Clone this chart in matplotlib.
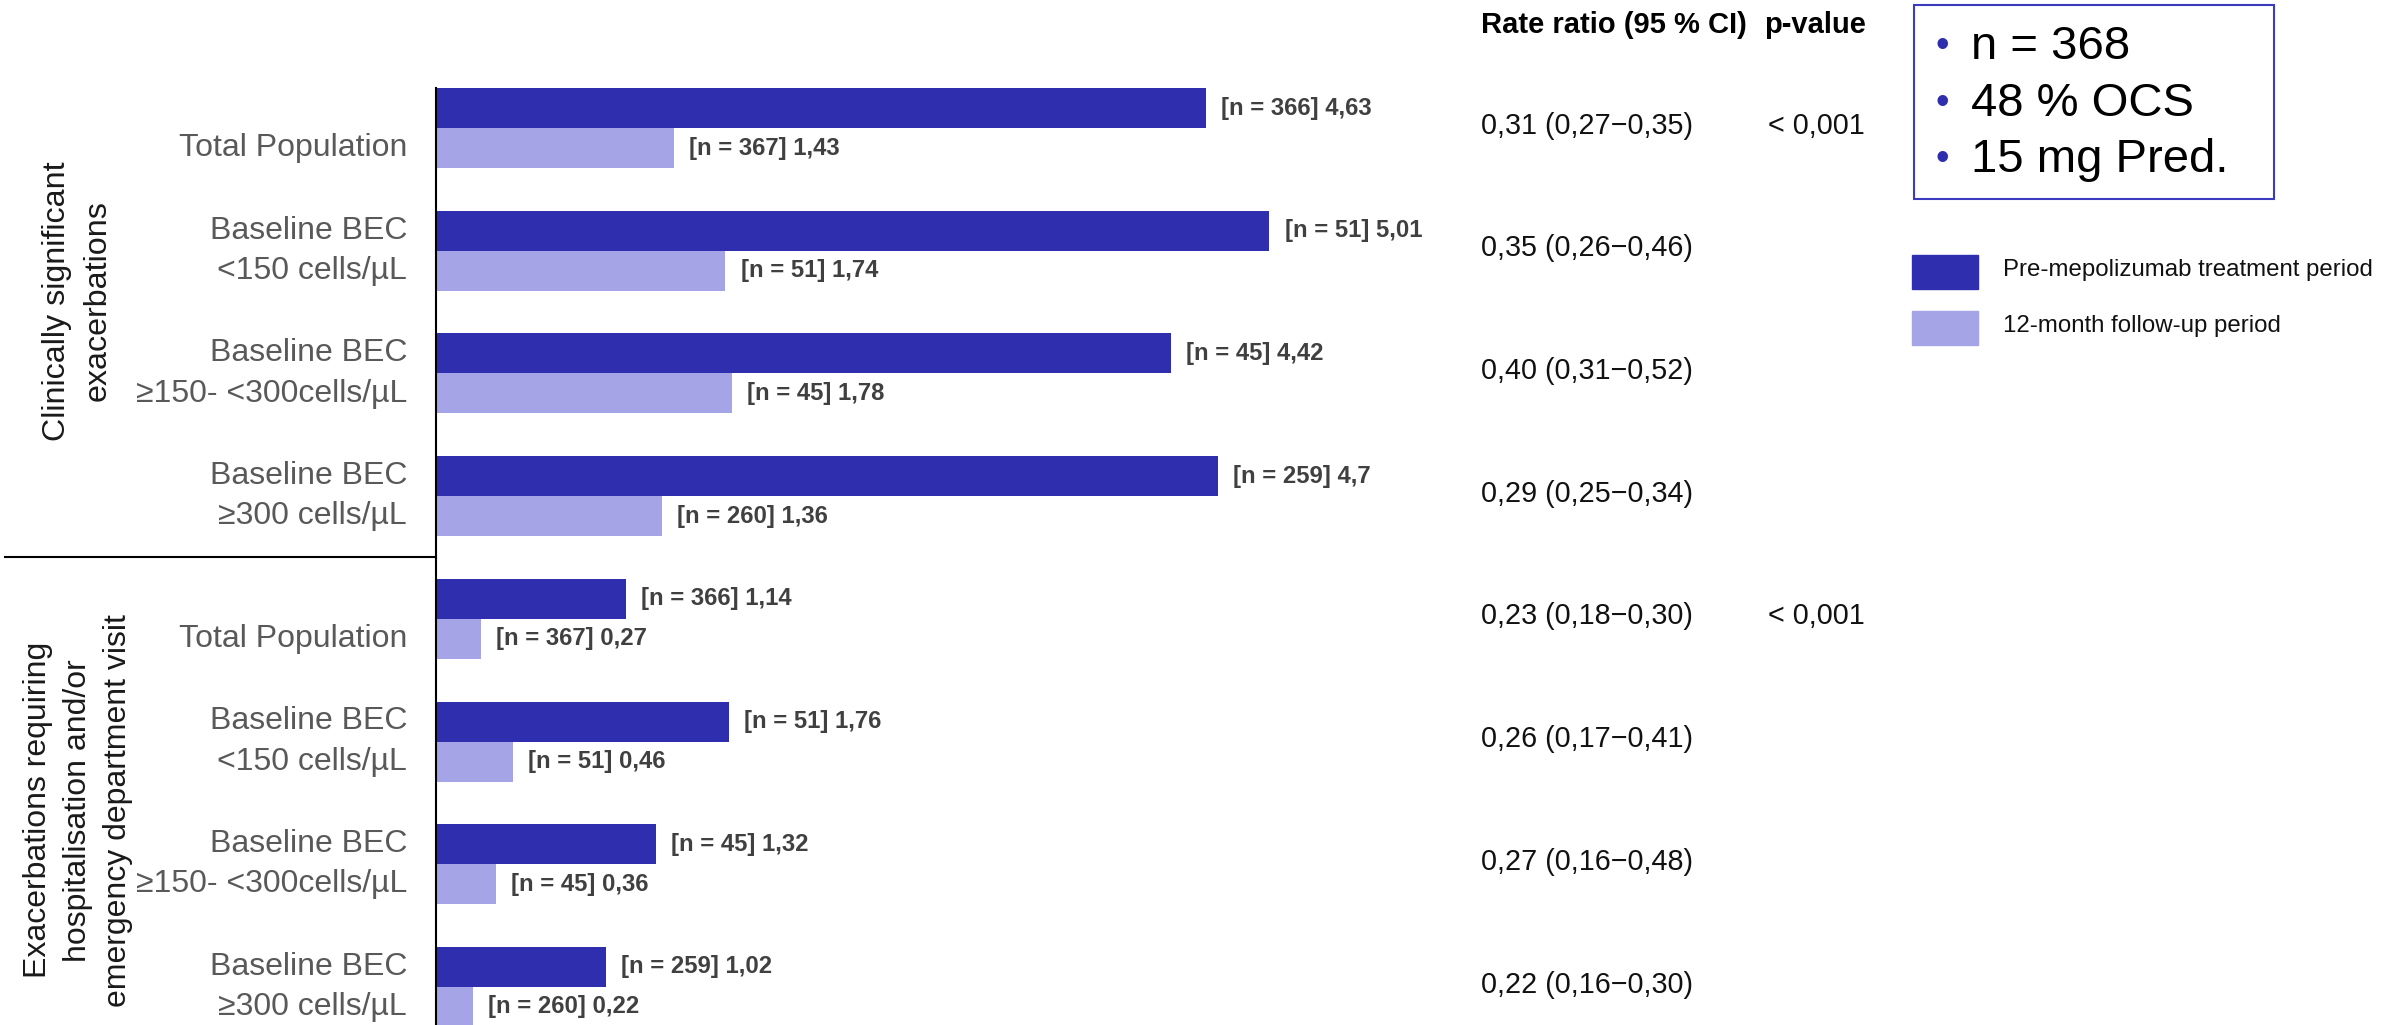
import matplotlib
matplotlib.use('Agg')
import matplotlib.pyplot as plt
import matplotlib.transforms as mtransforms
from matplotlib.patches import Rectangle
import numpy as np

plt.rcParams['font.family'] = ['Liberation Sans', 'DejaVu Sans']

# ---------------- data ----------------
row_labels = [
    "Total Population",
    "Baseline BEC\n<150 cells/µL",
    "Baseline BEC\n≥150- <300cells/µL",
    "Baseline BEC\n≥300 cells/µL",
    "Total Population",
    "Baseline BEC\n<150 cells/µL",
    "Baseline BEC\n≥150- <300cells/µL",
    "Baseline BEC\n≥300 cells/µL",
]
pre_vals = [4.63, 5.01, 4.42, 4.70, 1.14, 1.76, 1.32, 1.02]
post_vals = [1.43, 1.74, 1.78, 1.36, 0.27, 0.46, 0.36, 0.22]
pre_n = [366, 51, 45, 259, 366, 51, 45, 259]
post_n = [367, 51, 45, 260, 367, 51, 45, 260]
rate_ratios = ["0,31 (0,27−0,35)", "0,35 (0,26−0,46)", "0,40 (0,31−0,52)", "0,29 (0,25−0,34)",
               "0,23 (0,18−0,30)", "0,26 (0,17−0,41)", "0,27 (0,16−0,48)", "0,22 (0,16−0,30)"]
p_values = ["< 0,001", "", "", "", "< 0,001", "", "", ""]
section_labels = ["Clinically significant\nexacerbations",
                  "Exacerbations requiring\nhospitalisation and/or\nemergency department visit"]
info_lines = ["n = 368", "48 % OCS", "15 mg Pred."]
legend_labels = ["Pre-mepolizumab treatment period", "12-month follow-up period"]

DARK = "#2e2eaf"
LIGHT = "#a4a4e6"
W, H = 2386, 1025


def fx(px):
    return px / W


def fy(px):
    return 1 - px / H


fig = plt.figure(figsize=(W / 100, H / 100), dpi=100)
bh = 0.326
ax = fig.add_axes([fx(436), 0, fx(998), 937 / H])
ax.set_xlim(0, 6)
ax.set_ylim(7.31, -bh)

y = np.arange(len(pre_vals))
ax.barh(y - bh / 2, pre_vals, height=bh, color=DARK)
ax.barh(y + bh / 2, post_vals, height=bh, color=LIGHT)


def fmt(v):
    return f"{v:g}".replace('.', ',')


for i in range(len(y)):
    ax.annotate(f"[n = {pre_n[i]}] {fmt(pre_vals[i])}", (pre_vals[i], y[i] - bh / 2),
                xytext=(11, 0), textcoords='offset points', va='center', ha='left',
                fontsize=17.2, fontweight='bold', color='#404040', annotation_clip=False)
    ax.annotate(f"[n = {post_n[i]}] {fmt(post_vals[i])}", (post_vals[i], y[i] + bh / 2),
                xytext=(11, 0), textcoords='offset points', va='center', ha='left',
                fontsize=17.2, fontweight='bold', color='#404040', annotation_clip=False)

# spines / ticks
for s in ['top', 'right', 'bottom']:
    ax.spines[s].set_visible(False)
ax.spines['left'].set_linewidth(1.5)
ax.set_xticks([])
ax.set_yticks([])

# row labels
blend = mtransforms.blended_transform_factory(fig.transFigure, ax.transData)
for i, lab in enumerate(row_labels):
    yy = y[i] + bh / 2 if "\n" not in lab else y[i]
    ax.text(fx(407), yy, lab, transform=blend, ha='right', va='center',
            fontsize=23, color='#595959', linespacing=1.45, multialignment='right')

# separator line
ax.plot([fx(5), fx(436)], [3.5, 3.5], transform=blend, color='black', lw=1.5, clip_on=False)

# section labels
ax.text(fx(77), 1.41, section_labels[0], transform=blend, rotation=90, ha='center', va='center',
        fontsize=23.2, color='#1a1a1a', linespacing=1.45)
ax.text(fx(78), 5.56, section_labels[1], transform=blend, rotation=90, ha='center', va='center',
        fontsize=23.0, color='#1a1a1a', linespacing=1.45)

# right columns
fig.text(fx(1481), fy(25), "Rate ratio (95 % CI)", fontsize=21, fontweight='bold', va='center', ha='left')
fig.text(fx(1764), fy(25), "p-value", fontsize=21, fontweight='bold', va='center', ha='left')
for i in range(len(y)):
    ax.text(fx(1481), y[i] - 0.02, rate_ratios[i], transform=blend, fontsize=20.7,
            va='center', ha='left', color='#111111')
    if p_values[i]:
        ax.text(fx(1768), y[i] - 0.02, p_values[i], transform=blend, fontsize=20.7,
                va='center', ha='left', color='#111111')

# info box
fig.patches.append(Rectangle((fx(1914), fy(199)), fx(360), 194 / H, transform=fig.transFigure,
                             fill=False, edgecolor='#3b3bbf', lw=1.5))
for k, line in enumerate(info_lines):
    yc = fy(47 + k * 56.5)
    fig.text(fx(1942), yc, "•", fontsize=28, color=DARK, ha='center', va='center')
    fig.text(fx(1971), yc, line, fontsize=34, color='black', ha='left', va='center')

# legend
for k, (lab, col) in enumerate(zip(legend_labels, [DARK, LIGHT])):
    top = 255 + k * 56
    fig.patches.append(Rectangle((fx(1912), fy(top + 34)), fx(66), 34 / H,
                                 transform=fig.transFigure, color=col))
    fig.text(fx(2003), fy(top + 15), lab, fontsize=17.3, color='#111111', ha='left', va='center')

fig.savefig("out.png", dpi=100)
